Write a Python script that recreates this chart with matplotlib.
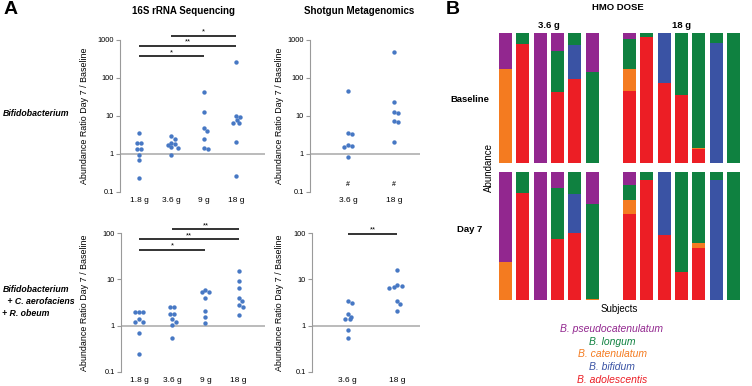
import numpy as np
import matplotlib
matplotlib.use("Agg")
import matplotlib.pyplot as plt
from matplotlib.ticker import NullLocator

plt.rcParams['font.family'] = ['Liberation Sans', 'DejaVu Sans']

# ---- panel A data (ratio day 7 / baseline) ----
doses16 = ['1.8 g', '3.6 g', '9 g', '18 g']
dosesShot = ['3.6 g', '18 g']

bif16 = [[3.55, 1.9, 1.9, 1.35, 1.35, 0.96, 0.68, 0.23],
         [2.96, 2.47, 1.98, 1.79, 1.72, 1.5, 1.44, 0.97],
         [42, 13.1, 4.8, 4.1, 2.42, 1.44, 1.38],
         [257, 10.1, 9.7, 7.8, 6.5, 6.5, 2.06, 0.27]]
combo16 = [[1.94, 1.94, 1.94, 1.37, 1.22, 1.2, 0.69, 0.24],
           [2.53, 2.53, 1.81, 1.81, 1.37, 1.22, 1.05, 0.54],
           [5.8, 5.2, 5.2, 4.0, 2.07, 1.56, 1.16],
           [15.4, 9.4, 6.4, 3.9, 3.46, 2.75, 2.57, 1.67]]
bifShot = [[45.5, 3.6, 3.4, 1.69, 1.59, 1.53, 0.85],
           [473, 23.3, 12.7, 12, 7.2, 6.9, 2.07]]
comboShot = [[3.35, 3.14, 1.76, 1.51, 1.42, 1.42, 0.81, 0.54],
             [16.1, 7.55, 7.2, 6.7, 6.5, 3.35, 2.89, 2.1]]

# significance: (from, to, height, label)
sig_bif16 = [(0, 2, 370, '*'), (0, 3, 710, '**'), (1, 3, 1300, '*')]
sig_combo16 = [(0, 2, 44, '*'), (0, 3, 73, '**'), (1, 3, 120, '**')]
sig_comboShot = [(0, 1, 97, '**')]
belowDetection = 0.16   # '#' marks in shotgun Bifidobacterium

# ---- panel B data (% relative abundance) ----
species = ['B. pseudocatenulatum', 'B. longum', 'B. catenulatum',
           'B. bifidum', 'B. adolescentis']
sp_colors = ['#92278F', '#0F8140', '#F47B20', '#3A53A4', '#EC1E25']
baseline = [[28, 0, 100, 14, 0, 30, 4.6, 0, 0, 0, 0, 0, 0],
            [0, 8.5, 0, 31, 9, 70, 23, 3, 0, 47.7, 88.4, 7.7, 100],
            [72, 0, 0, 0, 0, 0, 17, 0, 0, 0, 1, 0, 0],
            [0, 0, 0, 0, 26.5, 0, 0, 0, 38.7, 0, 0, 92.3, 0],
            [0, 91.5, 0, 55, 64.5, 0, 55.4, 97, 61.3, 52.3, 10.6, 0, 0]]
day7 = [[70, 0, 100, 12.5, 0, 25, 10.4, 0, 0, 0, 0, 0, 0],
        [0, 16.4, 0, 40, 17, 74.4, 11.7, 6.5, 0, 78, 55.5, 6.5, 100],
        [30, 0, 0, 0, 0, 0.6, 11.1, 0, 0, 0, 4.1, 0, 0],
        [0, 0, 0, 0, 31, 0, 0, 0, 49.4, 0, 0, 93.5, 0],
        [0, 83.6, 0, 47.5, 52, 0, 66.8, 93.5, 50.6, 22, 40.4, 0, 0]]

W, H = 752, 386
fig = plt.figure(figsize=(W / 100, H / 100), dpi=100)


def px_axes(l, t, r, b):
    return fig.add_axes([l / W, 1 - b / H, (r - l) / W, (b - t) / H])


def swarm(ax, x0, vals, d=4.4):
    # simple beeswarm in pixel space
    tr = ax.transData
    ys = tr.transform(np.column_stack([np.full(len(vals), x0), vals]))[:, 1]
    ppu = tr.transform([[1, 1]])[0, 0] - tr.transform([[0, 1]])[0, 0]
    placed = []
    offs = np.zeros(len(vals))
    for k in np.argsort(-np.asarray(vals), kind='stable'):
        y = ys[k]
        cands = [0.0]
        for px, py in placed:
            dy = abs(py - y)
            if dy < d:
                dx = np.sqrt(d * d - dy * dy)
                cands += [px + dx, px - dx]
        good = [c for c in cands
                if all((c - px) ** 2 + (y - py) ** 2 >= d * d - 1e-6 for px, py in placed)]
        best = min(good, key=lambda c: (abs(c), -c))
        placed.append((best, y))
        offs[k] = best
    # center rows of equal values
    for v in set(vals):
        idx = [i for i, w in enumerate(vals) if w == v]
        if len(idx) > 1:
            offs[idx] -= offs[idx].mean()
    return offs / ppu


def ratio_panel(ax, groups, labels, xlim, ylim, ticks, sigs):
    ax.set_yscale('log')
    ax.set_xlim(*xlim)
    ax.set_ylim(*ylim)
    ax.axhline(1, color='#b5b5b5', lw=1.3, zorder=0)
    for i, vals in enumerate(groups):
        off = swarm(ax, i, vals)
        ax.scatter(i + off, vals, s=10, color='#4778C4', linewidths=0, zorder=3)
    for a, b, y, lab in sigs:
        ax.plot([a, b], [y, y], color='#333333', lw=1.4, clip_on=False,
                solid_capstyle='butt')
        ax.annotate(lab, ((a + b) / 2, y), xytext=(0, 0.3), textcoords='offset points',
                    ha='center', va='bottom', fontsize=5.5, annotation_clip=False)
    ax.set_yticks(ticks)
    ax.set_yticklabels([('%g' % t) for t in ticks])
    ax.yaxis.set_minor_locator(NullLocator())
    ax.set_xticks(range(len(labels)))
    ax.set_xticklabels(labels)
    for s in ['top', 'right', 'bottom']:
        ax.spines[s].set_visible(False)
    ax.spines['left'].set_color('#9a9a9a')
    ax.spines['left'].set_linewidth(0.8)
    ax.tick_params(axis='y', length=3, width=0.8, color='#9a9a9a', labelsize=5.3, pad=1.5)
    ax.tick_params(axis='x', length=0, labelsize=6, pad=3.5)
    ax.set_facecolor('none')


ax1 = px_axes(120, 40, 265, 192)
ratio_panel(ax1, bif16, doses16, (-0.588, 3.9), (0.1, 1000),
            [0.1, 1, 10, 100, 1000], sig_bif16)
ax2 = px_axes(310, 40, 420, 192)
ratio_panel(ax2, bifShot, dosesShot, (-0.826, 1.565), (0.1, 1000),
            [0.1, 1, 10, 100, 1000], [])
for i in range(len(dosesShot)):
    ax2.text(i, belowDetection, '#', ha='center', va='center', fontsize=5,
             fontweight='bold', color='#333333')
ax3 = px_axes(121, 233, 265, 372)
ratio_panel(ax3, combo16, doses16, (-0.54, 3.79), (0.1, 100),
            [0.1, 1, 10, 100], sig_combo16)
ax4 = px_axes(312, 233, 420, 372)
ratio_panel(ax4, comboShot, dosesShot, (-0.72, 1.46), (0.1, 100),
            [0.1, 1, 10, 100], sig_comboShot)

ylab = 'Abundance Ratio Day 7 / Baseline'
for ax, lx in [(ax1, -0.214), (ax2, -0.236), (ax3, -0.222), (ax4, -0.26)]:
    ax.set_ylabel(ylab, fontsize=6.4)
    ax.yaxis.set_label_coords(lx, 0.5)

fig.text(11 / W, 1 - 10 / H, 'A', fontsize=14, fontweight='bold', ha='center', va='center')
fig.text(183 / W, 1 - 11 / H, '16S rRNA Sequencing', fontsize=7, fontweight='bold',
         ha='center', va='center')
fig.text(359 / W, 1 - 11 / H, 'Shotgun Metagenomics', fontsize=7, fontweight='bold',
         ha='center', va='center')
rowkw = dict(fontsize=6.3, fontweight='bold', style='italic', ha='left', va='center')
fig.text(3 / W, 1 - 114 / H, 'Bifidobacterium', **rowkw)
fig.text(3 / W, 1 - 289 / H, 'Bifidobacterium', **rowkw)
fig.text(5 / W, 1 - 301 / H, ' + C. aerofaciens', **rowkw)
fig.text(2 / W, 1 - 313 / H, '+ R. obeum', **rowkw)

# ---- panel B ----
xpos = np.r_[np.arange(6), 7.15 + np.arange(7)]
stack_order = [4, 3, 2, 1, 0]   # bottom to top
for (t, b), data in [((33, 163), baseline), ((172, 300), day7)]:
    ax = px_axes(499, t, 740, b)
    bottom = np.zeros(len(xpos))
    for k in stack_order:
        vals = np.asarray(data[k], dtype=float)
        ax.bar(xpos, vals, bottom=bottom, width=0.75, color=sp_colors[k],
               edgecolor='none')
        bottom += vals
    ax.set_xlim(-0.375, 13.525)
    ax.set_ylim(0, 100)
    ax.axis('off')

fig.text(453 / W, 1 - 9 / H, 'B', fontsize=14, fontweight='bold', ha='center', va='center')
fig.text(618 / W, 1 - 8 / H, 'HMO DOSE', fontsize=6.8, fontweight='bold',
         ha='center', va='center')
fig.text(549 / W, 1 - 25 / H, '3.6 g', fontsize=6.8, fontweight='bold', ha='center', va='center')
fig.text(682 / W, 1 - 25 / H, '18 g', fontsize=6.8, fontweight='bold', ha='center', va='center')
fig.text(470 / W, 1 - 99 / H, 'Baseline', fontsize=6.8, fontweight='bold', ha='center', va='center')
fig.text(470 / W, 1 - 230 / H, 'Day 7', fontsize=6.8, fontweight='bold', ha='center', va='center')
fig.text(489 / W, 1 - 167 / H, 'Abundance', fontsize=7, rotation=90, ha='center', va='center')
fig.text(619 / W, 1 - 309 / H, 'Subjects', fontsize=7, ha='center', va='center')
for i, (name, c) in enumerate(zip(species, sp_colors)):
    fig.text(612 / W, 1 - (329 + 12.7 * i) / H, name, fontsize=7.5, style='italic',
             color=c, ha='center', va='center')

fig.savefig('out.png', dpi=100)
